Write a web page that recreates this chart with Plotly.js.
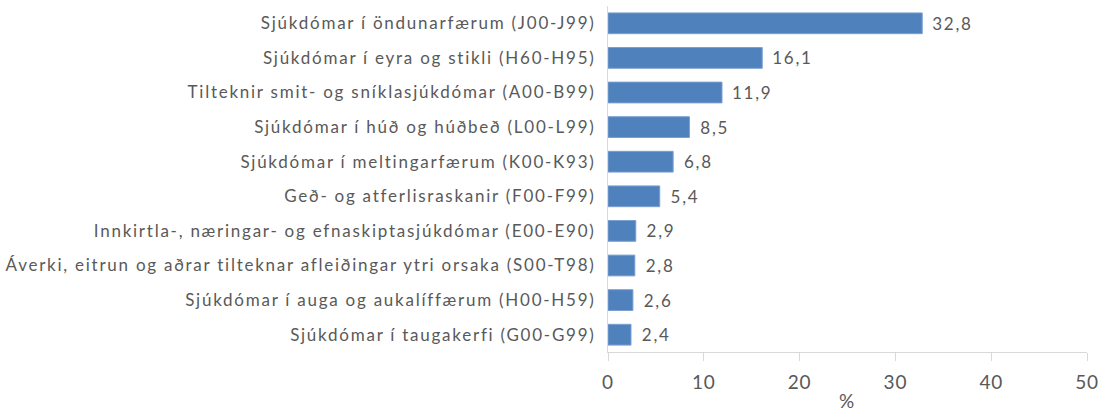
<!DOCTYPE html>
<html><head><meta charset="utf-8">
<script src="https://cdn.plot.ly/plotly-3.0.1.min.js"></script>
<style>html,body{margin:0;padding:0;background:#fff}#chart{width:1099px;height:412px}
#chart svg text{letter-spacing:1.75px}
#chart svg .xtick text{letter-spacing:0.8px}</style>
</head><body><div id="chart"></div>
<script>
const categories = [
  "Sjúkdómar í öndunarfærum (J00-J99)",
  "Sjúkdómar í eyra og stikli (H60-H95)",
  "Tilteknir smit- og sníklasjúkdómar (A00-B99)",
  "Sjúkdómar í húð og húðbeð (L00-L99)",
  "Sjúkdómar í meltingarfærum (K00-K93)",
  "Geð- og atferlisraskanir (F00-F99)",
  "Innkirtla-, næringar- og efnaskiptasjúkdómar (E00-E90)",
  "Áverki, eitrun og aðrar tilteknar afleiðingar ytri orsaka (S00-T98)",
  "Sjúkdómar í auga og aukalíffærum (H00-H59)",
  "Sjúkdómar í taugakerfi (G00-G99)"
];
const values = [32.8, 16.1, 11.9, 8.5, 6.8, 5.4, 2.9, 2.8, 2.6, 2.4];
const xTicks = [0, 10, 20, 30, 40, 50];
const xTitle = "%";

const fontFam = "Lato, 'Open Sans', sans-serif";
const grey = "#595959";
const labels = values.map(v => "\u00a0\u00a0" + v.toFixed(1).replace(".", ","));

Plotly.newPlot("chart", [{
  type: "bar",
  orientation: "h",
  y: categories,
  x: values,
  text: labels,
  textposition: "outside",
  constraintext: "none",
  cliponaxis: false,
  textfont: {family: fontFam, size: 17, color: grey},
  marker: {color: "#4f81bd", line: {color: "#7a9fd0", width: 1}},
  hoverinfo: "x+y"
}], {
  width: 1099, height: 412,
  margin: {l: 608, r: 12, t: 6, b: 60},
  paper_bgcolor: "#fff", plot_bgcolor: "#fff",
  bargap: 0.4,
  showlegend: false,
  separators: ", ",
  font: {family: fontFam, size: 17, color: grey},
  xaxis: {
    range: [0, 50], tickvals: xTicks, ticktext: xTicks.map(String),
    showgrid: false, zeroline: false,
    showline: true, linecolor: "#d9d9d9", linewidth: 1,
    ticks: "outside", ticklen: 8, tickcolor: "#d9d9d9",
    ticklabelstandoff: 5,
    tickfont: {family: fontFam, size: 19, color: grey},
    title: {text: xTitle, font: {family: fontFam, size: 19, color: grey}, standoff: 6}
  },
  yaxis: {
    autorange: "reversed", type: "category",
    showgrid: false, zeroline: false,
    showline: true, linecolor: "#d9d9d9", linewidth: 1,
    ticks: "", ticklabelstandoff: 8,
    tickfont: {family: fontFam, size: 17, color: grey}
  }
}, {displayModeBar: false, staticPlot: true});
</script></body></html>
